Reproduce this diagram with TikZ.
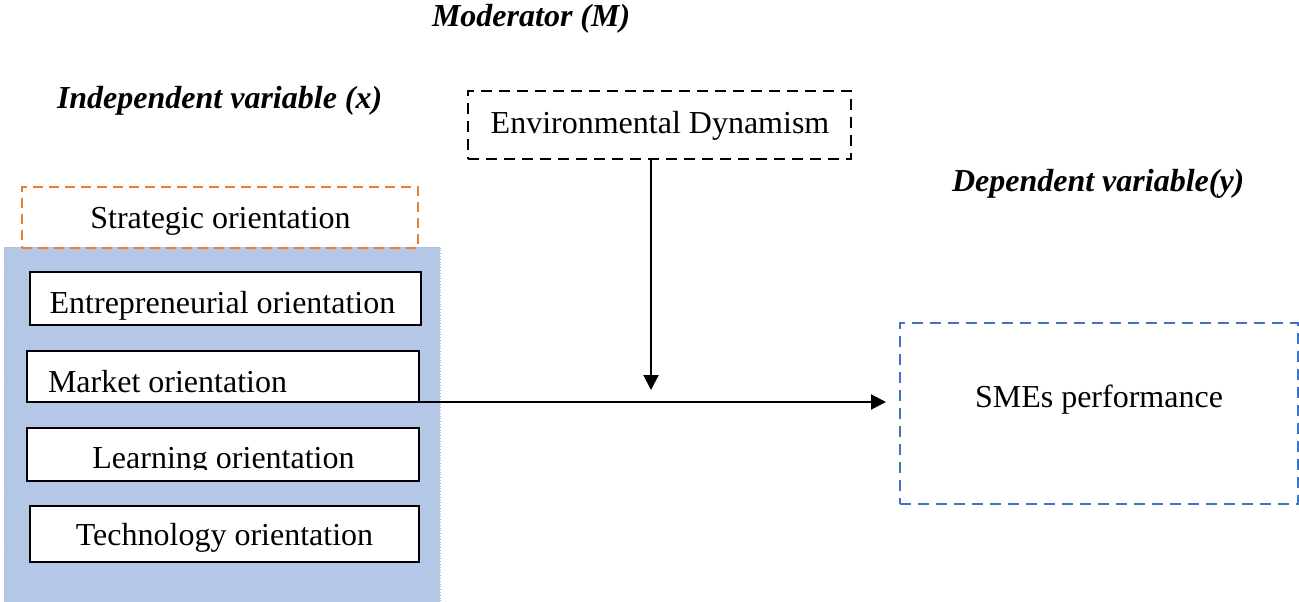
\documentclass[tikz,border=0pt]{standalone}
\usepackage{fontspec}
\setmainfont{Liberation Serif}
\usetikzlibrary{arrows.meta}
\definecolor{accentorange}{HTML}{ED7D31}
\definecolor{accentblue}{HTML}{4472C4}
\definecolor{panelblue}{HTML}{B4C7E7}
\definecolor{paneledge}{HTML}{A3B9E0}

\begin{document}
\begin{tikzpicture}[x=1pt,y=-1pt,
  every node/.style={font=\fontsize{32}{38}\selectfont, inner sep=0pt, outer sep=0pt},
  heading/.style={font=\fontsize{32}{38}\selectfont\bfseries\itshape, anchor=base west},
  boxtext/.style={anchor=base},
  varbox/.style={draw=black, line width=2pt, fill=white, rectangle},
  groupbox/.style={draw=accentorange, line width=2.7pt, dash pattern=on 10pt off 6pt, rectangle},
  modbox/.style={draw=black, line width=2.3pt, dash pattern=on 11pt off 7pt, rectangle},
  outbox/.style={draw=accentblue, line width=2.6pt, dash pattern=on 11pt off 7pt, rectangle},
  panelbox/.style={fill=panelblue, draw=paneledge, line width=0.8pt, dotted, rectangle},
  conn/.style={draw=black, line width=2pt, -{Triangle[length=15pt,width=15pt]}}
]
\useasboundingbox (0,0) rectangle (1299,602);

% headings
\node[heading] (modhead) at (432,27) {Moderator (M)};
\node[heading] (indhead) at (57,109) {Independent variable (x)};
\node[heading] (dephead) at (952,191) {Dependent variable(y)};

% independent variable group
\node[panelbox, minimum width=436pt, minimum height=355pt] (panel) at (222,424.5) {};
\node[groupbox, minimum width=396pt, minimum height=61pt] (so) at (220,217.5) {};
\node[boxtext] (sotext) at (220.5,228) {Strategic orientation};

\node[varbox, minimum width=391pt, minimum height=53pt] (eo) at (225.5,298.5) {};
\node[boxtext] (eotext) at (222.5,313) {Entrepreneurial orientation};

\node[varbox, minimum width=392pt, minimum height=51pt] (mo) at (223,376.5) {};
\node[anchor=base west] (motext) at (48,392) {Market orientation};

\node[varbox, minimum width=392pt, minimum height=53pt] (lo) at (223,454.5) {};
\begin{scope}
  \clip (lo.north west) rectangle (419,469);
  \node[boxtext] (lotext) at (223.5,468) {Learning orientation};
\end{scope}

\node[varbox, minimum width=389pt, minimum height=56pt] (to) at (224.5,534) {};
\node[boxtext] (totext) at (224.5,545) {Technology orientation};

% moderator
\node[modbox, minimum width=383pt, minimum height=68pt] (env) at (659.5,125) {};
\node[boxtext] (envtext) at (660,133) {Environmental Dynamism};

% dependent variable
\node[outbox, minimum width=398pt, minimum height=181pt] (sme) at (1099,413.5) {};
\node[boxtext] (smetext) at (1099,407) {SMEs performance};

% connectors
\coordinate (modtip) at (651,390);
\coordinate (flowstart) at (395,402);
\coordinate (flowend) at (886,402);
\draw[conn] (env.south -| modtip) -- (modtip);
\draw[conn] (flowstart) -- (flowend);
\end{tikzpicture}
\end{document}
